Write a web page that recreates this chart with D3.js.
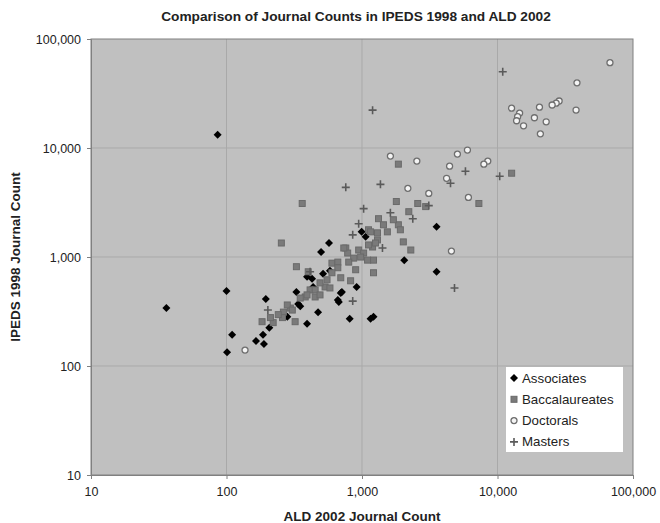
<!DOCTYPE html>
<html>
<head>
<meta charset="utf-8">
<script src="https://cdn.jsdelivr.net/npm/d3@7"></script>
<style>
body{margin:0;background:#fff;}
text{font-family:Arial,"Liberation Sans",sans-serif;fill:#222;}
</style>
</head>
<body>
<div id="chart"></div>
<script>
// data: [ALD 2002, IPEDS 1998]
var associates=[[36,340],[86,13200],[100,488],[195,412],[207,224],[110,193],[186,193],[165,170],[189,159],[101,134],
  [281,283],[338,370],[328,478],[393,244],[474,312],[436,531],[674,386],[710,478],[913,531],[811,271],[1157,271],[1216,283],
  [571,1344],[499,1111],[516,701],[580,748],[393,658],[428,630],[350,354],[697,468],[663,403],[994,1701],[1063,1530],
  [2051,936],[3552,1894],[3552,732]];
var baccalaureates=[[183,255],[254,1344],[362,3097],[1855,7110],[1792,3228],[1324,2246],[2292,1159],[12716,5870],[7287,3097],
  [1216,936],[1216,717],[2018,1376],[2579,3097],[2951,2900],[1855,1976],[328,815],[759,1209],[824,605],[401,732],[414,499],
  [451,430],[381,430],[296,340],[263,312],[259,278],[221,250],[321,255],[534,531],[600,878],[663,898],[784,1087],[734,1209],
  [945,1159],[1028,1087],[1099,936],[1197,1235],[1301,1435],[1117,1777],[1301,1666],[1258,1344],[1117,1290],[868,977],
  [798,898],[663,797],[600,717],[552,618],[490,579],[451,499],[393,449],[350,420],[1539,1701],[1704,2197],[1919,1777],
  [1157,1701],[1440,1976],[977,999],[211,278],[241,296],[281,363],[306,326],[697,645],[898,764],[580,520],[490,449],[2215,2604]];
var doctorals=[[137,140],[67600,60600],[38600,39600],[38000,22300],[28500,27000],[27100,25800],[25300,24800],[20400,23700],
  [12700,23200],[14560,20900],[14070,19370],[13830,17780],[15570,15990],[18730,18950],[22870,17400],[20720,13480],
  [6000,9580],[5060,8800],[4430,6810],[4210,5275],[8480,7580],[7930,7110],[6100,3518],[1620,8430],[2540,7580],
  [3110,3830],[2180,4263],[4570,1134]];
var masters=[[10930,50050],[5800,6120],[10380,5505],[4500,4742],[1197,22250],[759,4353],[1368,4642],[1028,2777],[1620,2550],
  [2370,2246],[945,2018],[854,1596],[3110,2961],[1416,1209],[4815,520],[202,326],[414,732],[854,394]];
var seriesNames=["Associates","Baccalaureates","Doctorals","Masters"];
var tickValues=[10,100,1000,10000,100000];

var width=660,height=523;
var margin={left:91,top:39,right:27,bottom:48};

var svg=d3.select("#chart").append("svg")
  .attr("width",width)
  .attr("height",height);

var x=d3.scaleLog().domain([10,100000]).range([margin.left,width-margin.right]);
var y=d3.scaleLog().domain([10,100000]).range([height-margin.bottom,margin.top]);

// plot area
svg.append("rect")
  .attr("x",x(10)).attr("y",y(100000))
  .attr("width",x(100000)-x(10)).attr("height",y(10)-y(100000))
  .style("fill","#c0c0c0");

// grid
svg.append("g").selectAll("line").data(tickValues.slice(1,-1)).enter().append("line")
  .attr("x1",function(d){return x(d);}).attr("x2",function(d){return x(d);})
  .attr("y1",y(100000)).attr("y2",y(10))
  .style("stroke","#a9a9a9");
svg.append("g").selectAll("line").data(tickValues.slice(1,-1)).enter().append("line")
  .attr("y1",function(d){return y(d);}).attr("y2",function(d){return y(d);})
  .attr("x1",x(10)).attr("x2",x(100000))
  .style("stroke","#a9a9a9");

svg.append("rect")
  .attr("x",x(10)).attr("y",y(100000))
  .attr("width",x(100000)-x(10)).attr("height",y(10)-y(100000))
  .style("fill","none").style("stroke","#808080");

// axes
var fmt=d3.format(",");
var xAxis=svg.append("g")
  .attr("transform","translate(0,"+y(10)+")")
  .call(d3.axisBottom(x).tickValues(tickValues).tickFormat(fmt).tickSize(4).tickPadding(8));
var yAxis=svg.append("g")
  .attr("transform","translate("+x(10)+",0)")
  .call(d3.axisLeft(y).tickValues(tickValues).tickFormat(fmt).tickSize(4).tickPadding(6));
[xAxis,yAxis].forEach(function(a){
  a.select(".domain").style("stroke","#808080");
  a.selectAll(".tick line").style("stroke","#808080");
  a.selectAll(".tick text").style("font-size","12.5px").style("fill","#222").style("font-family","Arial,'Liberation Sans',sans-serif");
});

// titles
svg.append("text")
  .attr("x",356).attr("y",21)
  .attr("text-anchor","middle")
  .style("font-size","13.7px").style("font-weight","bold")
  .text("Comparison of Journal Counts in IPEDS 1998 and ALD 2002");

svg.append("text")
  .attr("x",(x(10)+x(100000))/2).attr("y",521)
  .attr("text-anchor","middle")
  .style("font-size","13.5px").style("font-weight","bold")
  .text("ALD 2002 Journal Count");

svg.append("text")
  .attr("transform","translate(20,"+((y(10)+y(100000))/2)+") rotate(-90)")
  .attr("text-anchor","middle")
  .style("font-size","13.5px").style("font-weight","bold")
  .text("IPEDS 1998 Journal Count");

// markers
function drawMarker(g,type){
  if(type==0){
    g.append("path").attr("d","M0,-4L4,0L0,4L-4,0Z").style("fill","#000");
  }
  else if(type==1){
    g.append("rect").attr("x",-3).attr("y",-3).attr("width",6).attr("height",6)
      .style("fill","#7a7a7a").style("stroke","#6a6a6a");
  }
  else if(type==2){
    g.append("circle").attr("r",3).style("fill","#f4f4f4").style("stroke","#6e6e6e").style("stroke-width",1.3);
  }
  else{
    g.append("path").attr("d","M-4,0H4M0,-4V4").style("stroke","#5a5a5a").style("stroke-width",1.6);
  }
}

var allSeries=[associates,baccalaureates,doctorals,masters];
allSeries.forEach(function(data,i){
  svg.append("g").selectAll("g").data(data).enter().append("g")
    .attr("transform",function(d){return "translate("+x(d[0])+","+y(d[1])+")";})
    .each(function(){drawMarker(d3.select(this),i);});
});

// legend
var legend=svg.append("g").attr("transform","translate(506,367)");
legend.append("rect").attr("width",117).attr("height",85).style("fill","#fff");
seriesNames.forEach(function(name,i){
  var row=legend.append("g").attr("transform","translate(0,"+(11+i*21.3)+")");
  drawMarker(row.append("g").attr("transform","translate(8,0)"),i);
  row.append("text").attr("x",16).attr("y",4.5).style("font-size","13.3px").text(name);
});
</script>
</body>
</html>
